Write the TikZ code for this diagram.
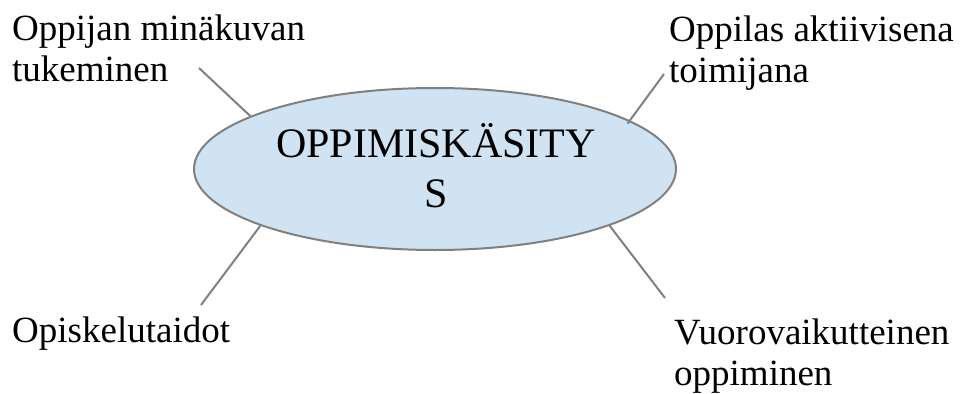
\documentclass[tikz,border=0pt]{standalone}
\usepackage{fontspec}
\setmainfont{Liberation Serif}
\usetikzlibrary{shapes.geometric}
\definecolor{kasitysfill}{RGB}{207,227,242}
\definecolor{viiva}{RGB}{128,128,128}

\begin{document}
\begin{tikzpicture}[x=1pt,y=-1pt,
  kasitys/.style={ellipse,draw=viiva,line width=2pt,fill=kasitysfill,
    minimum width=482pt,minimum height=162pt,inner sep=0pt},
  otsikko/.style={align=center,anchor=base,inner sep=0pt,
    font=\fontsize{42}{50}\selectfont},
  teema/.style={align=left,anchor=base west,inner sep=0pt,
    font=\fontsize{37}{41}\selectfont},
  yhteys/.style={draw=viiva,line width=2pt}]
  \useasboundingbox (0,0) rectangle (965,393);
  \node[kasitys] (kasitys) at (435,169) {};
  \node[otsikko] (nimi) at (436,207) {OPPIMISKÄSITY\\S};
  % teemat (base = viimeisen rivin perusviiva)
  \node[teema] (minakuva) at (12,82) {Oppijan minäkuvan\\tukeminen};
  \node[teema] (aktiivinen) at (669,83) {Oppilas aktiivisena\\toimijana};
  \node[teema] (taidot) at (12,342) {Opiskelutaidot};
  \node[teema] (vuoro) at (674,385) {Vuorovaikutteinen\\oppiminen};
  \coordinate (tl) at (199,68);
  \coordinate (tr) at (664,74);
  \coordinate (bl) at (201,305);
  \coordinate (br) at (665,298);
  \foreach \a/\c/\s in {164/tl/0,14/tr/-4,198/bl/0,342/br/0}
    \draw[yhteys,shorten <=\s pt] (kasitys.\a) -- (\c);
\end{tikzpicture}
\end{document}
